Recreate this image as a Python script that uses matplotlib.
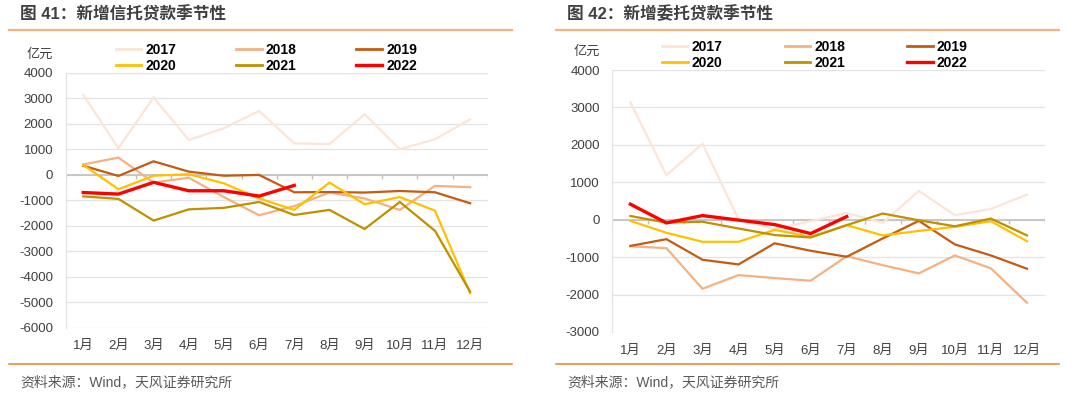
import matplotlib
matplotlib.use("Agg")
import matplotlib.pyplot as plt
from matplotlib.lines import Line2D

plt.rcParams['font.family'] = ['Liberation Sans', 'Noto Sans CJK SC', 'DejaVu Sans']
plt.rcParams['axes.unicode_minus'] = False

months = ["1月", "2月", "3月", "4月", "5月", "6月", "7月", "8月", "9月", "10月", "11月", "12月"]
years = ["2017", "2018", "2019", "2020", "2021", "2022"]
colors = ["#FBE5D6", "#F4B183", "#C55A11", "#FFC000", "#BF9000", "#FF0000"]
widths = [1.6, 1.6, 1.6, 1.6, 1.6, 2.4]

# 新增信托贷款 (亿元)
trust_2017 = [3130, 1040, 3030, 1360, 1820, 2500, 1230, 1200, 2370, 1000, 1390, 2170]
trust_2018 = [400, 670, -310, -120, -880, -1590, -1230, -700, -930, -1380, -440, -490]
trust_2019 = [350, -50, 525, 120, -40, -10, -690, -680, -700, -640, -690, -1120]
trust_2020 = [380, -570, -40, 20, -340, -930, -1380, -310, -1160, -875, -1410, -4650]
trust_2021 = [-850, -950, -1800, -1360, -1300, -1070, -1580, -1380, -2130, -1070, -2200, -4590]
trust_2022 = [-700, -760, -300, -630, -630, -840, -420]

# 新增委托贷款 (亿元)
entr_2017 = [3140, 1190, 2030, 10, -250, -40, 180, -85, 770, 120, 290, 670]
entr_2018 = [-710, -760, -1845, -1480, -1560, -1630, -975, -1215, -1435, -955, -1300, -2220]
entr_2019 = [-700, -520, -1070, -1195, -630, -830, -990, -500, -30, -660, -955, -1310]
entr_2020 = [-30, -350, -590, -590, -270, -460, -145, -420, -300, -190, -40, -575]
entr_2021 = [100, -80, -55, -235, -410, -475, -145, 165, -15, -175, 30, -420]
entr_2022 = [415, -85, 110, -10, -130, -370, 85]

panels = [
    dict(title="图 41：新增信托贷款季节性",
         series=[trust_2017, trust_2018, trust_2019, trust_2020, trust_2021, trust_2022],
         ylim=(-6000, 4000), rect=[0.0608, 0.1683, 0.3908, 0.6472], x0=0.0,
         unit_y=0.861, leg_x=0.107, leg_y=0.853, colsp=4.3),
    dict(title="图 42：新增委托贷款季节性",
         series=[entr_2017, entr_2018, entr_2019, entr_2020, entr_2021, entr_2022],
         ylim=(-3000, 4000), rect=[0.567, 0.1574, 0.4006, 0.6649], x0=0.5065,
         unit_y=0.868, leg_x=0.613, leg_y=0.861, colsp=4.45),
]

fig = plt.figure(figsize=(10.8, 3.94), dpi=100)

for p in panels:
    ax = fig.add_axes(p["rect"])
    x = list(range(len(months)))
    for yr, col, lw, vals in zip(years, colors, widths, p["series"]):
        ax.plot(x[:len(vals)], vals, color=col, linewidth=lw, label=yr,
                solid_joinstyle="miter", zorder=3)

    lo, hi = p["ylim"]
    ax.set_ylim(lo, hi)
    ax.set_xlim(-0.5, len(months) - 0.5)
    ax.set_yticks(range(lo, hi + 1, 1000))
    ax.grid(True, axis="y", color="#E3E3E3", linewidth=0.9, zorder=0)
    ax.set_xticks(x)
    ax.set_xticklabels(months, fontsize=9.5, color="#404040")
    ax.tick_params(axis="x", length=0, pad=9)
    ax.tick_params(axis="y", length=0, pad=9, labelsize=9.5, labelcolor="#404040")
    for s in ["top", "right", "bottom"]:
        ax.spines[s].set_visible(False)
    ax.spines["left"].set_color("#E3E3E3")
    ax.spines["left"].set_linewidth(0.9)

    # category axis crossing at zero, with tick marks between months
    frac0 = (0 - lo) / (hi - lo)
    ax.axhline(0, color="#BFBFBF", linewidth=1.2, zorder=2)
    bounds = [i - 0.5 for i in range(len(months) + 1)]
    ax.vlines(bounds, frac0 - 0.016, frac0, transform=ax.get_xaxis_transform(),
              color="#BFBFBF", linewidth=1.0, zorder=2)

    fig.text(p["rect"][0] - 0.0116, p["unit_y"], "亿元", ha="right", va="center",
             fontsize=9.5, color="#404040")

    handles = [Line2D([], [], color=c, linewidth=2.4 if yr == "2022" else 2.0)
               for yr, c in zip(years, colors)]
    # row-major order: 2017 2018 2019 / 2020 2021 2022
    order = [0, 3, 1, 4, 2, 5]
    ax.legend([handles[i] for i in order], [years[i] for i in order], ncol=3,
              loc="center left", bbox_to_anchor=(p["leg_x"], p["leg_y"]),
              bbox_transform=fig.transFigure,
              frameon=False, prop=dict(weight="bold", size=10),
              handlelength=1.85, handletextpad=0.3, columnspacing=p["colsp"],
              labelspacing=0.15, borderaxespad=0.0, borderpad=0.0)

    x0 = p["x0"]
    fig.text(x0 + 0.0185, 0.964, p["title"], fontsize=12, fontweight="bold",
             color="#404040", ha="left", va="center")
    fig.add_artist(Line2D([x0 + 0.008, x0 + 0.474], [0.924, 0.924],
                          color="#F4B183", linewidth=1.6))
    fig.add_artist(Line2D([x0 + 0.008, x0 + 0.474], [0.077, 0.077],
                          color="#ED7D31", linewidth=1.1))
    fig.text(x0 + 0.0185, 0.03, "资料来源：Wind，天风证券研究所", fontsize=10,
             color="#595959", ha="left", va="center")

fig.savefig("out.png", dpi=100)
